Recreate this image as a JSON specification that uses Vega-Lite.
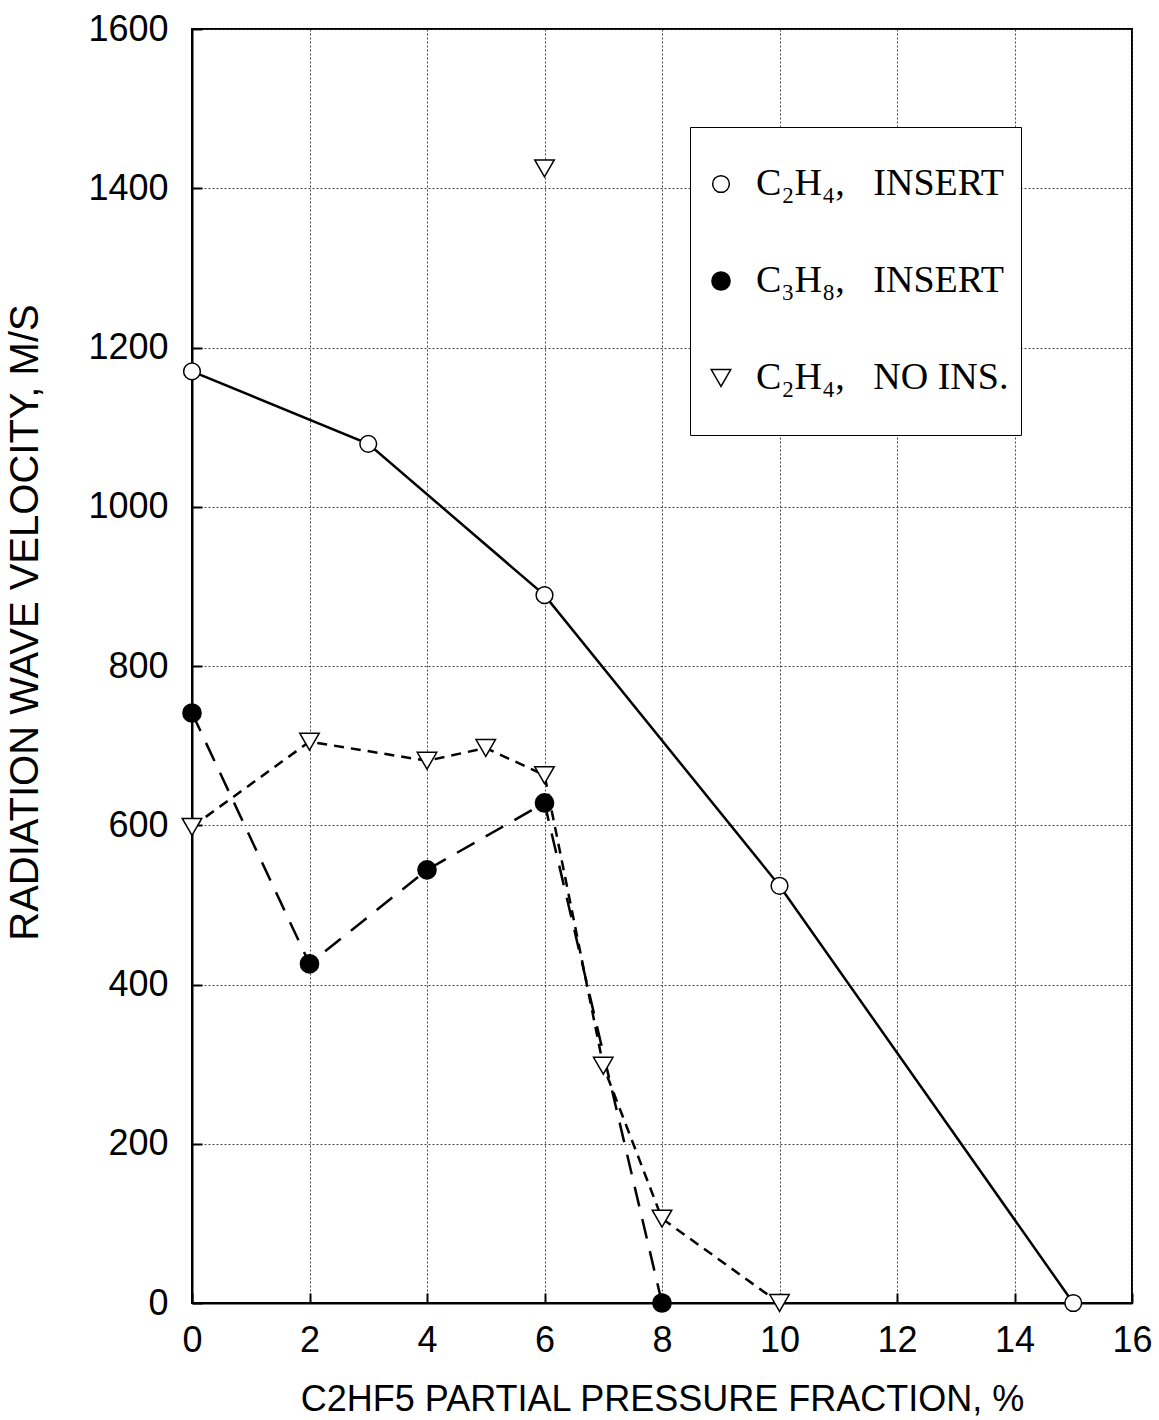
{
  "$schema": "https://vega.github.io/schema/vega-lite/v6.json",
  "width": 940,
  "height": 1274,
  "autosize": {"type": "none"},
  "padding": {"left": 192, "top": 29, "right": 27, "bottom": 117},
  "background": "white",
  "data": {
    "values": [
      {"series": "C₂H₄,\u00a0\u00a0\u00a0INSERT", "x": 0, "y": 1170, "iso": false},
      {"series": "C₂H₄,\u00a0\u00a0\u00a0INSERT", "x": 3, "y": 1079, "iso": false},
      {"series": "C₂H₄,\u00a0\u00a0\u00a0INSERT", "x": 6, "y": 889, "iso": false},
      {"series": "C₂H₄,\u00a0\u00a0\u00a0INSERT", "x": 10, "y": 524, "iso": false},
      {"series": "C₂H₄,\u00a0\u00a0\u00a0INSERT", "x": 15, "y": 0, "iso": false},
      {"series": "C₃H₈,\u00a0\u00a0\u00a0INSERT", "x": 0, "y": 741, "iso": false},
      {"series": "C₃H₈,\u00a0\u00a0\u00a0INSERT", "x": 2, "y": 426, "iso": false},
      {"series": "C₃H₈,\u00a0\u00a0\u00a0INSERT", "x": 4, "y": 544, "iso": false},
      {"series": "C₃H₈,\u00a0\u00a0\u00a0INSERT", "x": 6, "y": 628, "iso": false},
      {"series": "C₃H₈,\u00a0\u00a0\u00a0INSERT", "x": 8, "y": 0, "iso": false},
      {"series": "C₂H₄,\u00a0\u00a0\u00a0NO INS.", "x": 0, "y": 598, "iso": false},
      {"series": "C₂H₄,\u00a0\u00a0\u00a0NO INS.", "x": 2, "y": 705, "iso": false},
      {"series": "C₂H₄,\u00a0\u00a0\u00a0NO INS.", "x": 4, "y": 681, "iso": false},
      {"series": "C₂H₄,\u00a0\u00a0\u00a0NO INS.", "x": 5, "y": 697, "iso": false},
      {"series": "C₂H₄,\u00a0\u00a0\u00a0NO INS.", "x": 6, "y": 663, "iso": false},
      {"series": "C₂H₄,\u00a0\u00a0\u00a0NO INS.", "x": 7, "y": 298, "iso": false},
      {"series": "C₂H₄,\u00a0\u00a0\u00a0NO INS.", "x": 8, "y": 106, "iso": false},
      {"series": "C₂H₄,\u00a0\u00a0\u00a0NO INS.", "x": 10, "y": 0, "iso": false},
      {"series": "C₂H₄,\u00a0\u00a0\u00a0NO INS.", "x": 6, "y": 1425, "iso": true}
    ]
  },
  "encoding": {
    "x": {
      "field": "x", "type": "quantitative",
      "scale": {"domain": [0, 16], "nice": false, "zero": false},
      "axis": {
        "title": "C2HF5 PARTIAL PRESSURE FRACTION, %",
        "values": [0, 2, 4, 6, 8, 10, 12, 14, 16],
        "format": "d",
        "labelPadding": 30, "titlePadding": 24, "titleFontSize": 36
      }
    },
    "y": {
      "field": "y", "type": "quantitative",
      "scale": {"domain": [0, 1600], "nice": false},
      "axis": {
        "title": "RADIATION WAVE VELOCITY, M/S",
        "values": [0, 200, 400, 600, 800, 1000, 1200, 1400, 1600],
        "format": "d",
        "labelPadding": 34, "titlePadding": 42, "titleFontSize": 40, "titleY": 593
      }
    }
  },
  "layer": [
    {
      "transform": [{"filter": "datum.series == 'C₂H₄,\u00a0\u00a0\u00a0INSERT'"}],
      "mark": {"type": "line", "color": "black", "strokeWidth": 2.5},
      "encoding": {"order": {"field": "x", "type": "quantitative"}}
    },
    {
      "transform": [{"filter": "datum.series == 'C₃H₈,\u00a0\u00a0\u00a0INSERT'"}],
      "mark": {"type": "line", "color": "black", "strokeWidth": 2.5, "strokeDash": [20, 13]},
      "encoding": {"order": {"field": "x", "type": "quantitative"}}
    },
    {
      "transform": [{"filter": "datum.series == 'C₂H₄,\u00a0\u00a0\u00a0NO INS.' && datum.iso == false"}],
      "mark": {"type": "line", "color": "black", "strokeWidth": 2.5, "strokeDash": [10, 7]},
      "encoding": {"order": {"field": "x", "type": "quantitative"}}
    },
    {
      "mark": {"type": "point", "filled": true, "strokeWidth": 1.5, "opacity": 1},
      "encoding": {
        "shape": {
          "field": "series", "type": "nominal",
          "scale": {
            "domain": ["C₂H₄,\u00a0\u00a0\u00a0INSERT", "C₃H₈,\u00a0\u00a0\u00a0INSERT", "C₂H₄,\u00a0\u00a0\u00a0NO INS."],
            "range": ["circle", "circle", "triangle-down"]
          },
          "legend": {"title": null, "orient": "none", "legendX": 498, "legendY": 98}
        },
        "fill": {
          "field": "series", "type": "nominal",
          "scale": {
            "domain": ["C₂H₄,\u00a0\u00a0\u00a0INSERT", "C₃H₈,\u00a0\u00a0\u00a0INSERT", "C₂H₄,\u00a0\u00a0\u00a0NO INS."],
            "range": ["white", "black", "white"]
          },
          "legend": {"title": null, "orient": "none", "legendX": 498, "legendY": 98}
        },
        "stroke": {
          "field": "series", "type": "nominal",
          "scale": {
            "domain": ["C₂H₄,\u00a0\u00a0\u00a0INSERT", "C₃H₈,\u00a0\u00a0\u00a0INSERT", "C₂H₄,\u00a0\u00a0\u00a0NO INS."],
            "range": ["black", "black", "black"]
          },
          "legend": {"title": null, "orient": "none", "legendX": 498, "legendY": 98}
        },
        "size": {
          "field": "series", "type": "nominal",
          "scale": {
            "domain": ["C₂H₄,\u00a0\u00a0\u00a0INSERT", "C₃H₈,\u00a0\u00a0\u00a0INSERT", "C₂H₄,\u00a0\u00a0\u00a0NO INS."],
            "range": [280, 380, 440]
          },
          "legend": {"title": null, "orient": "none", "legendX": 498, "legendY": 98}
        }
      }
    }
  ],
  "config": {
    "view": {"stroke": "black", "strokeWidth": 2},
    "axis": {
      "domainColor": "black", "domainWidth": 2,
      "ticks": true, "tickSize": -10, "tickColor": "black", "tickWidth": 2, "labelFlush": false,
      "grid": true, "gridColor": "#333", "gridDash": [2, 2], "gridWidth": 1, "gridOpacity": 0.9,
      "labelFont": "Liberation Sans", "labelFontSize": 36, "labelColor": "black", "labelFontWeight": "normal",
      "titleFont": "Liberation Sans", "titleColor": "black", "titleFontWeight": "normal"
    },
    "legend": {
      "strokeColor": "black", "fillColor": "white", "padding": 12,
      "labelFont": "Liberation Serif", "labelFontSize": 38, "labelColor": "black",
      "symbolStrokeWidth": 1.5,
      "labelOffset": 16, "rowPadding": 7, "clipHeight": 90, "labelLimit": 400
    }
  }
}
